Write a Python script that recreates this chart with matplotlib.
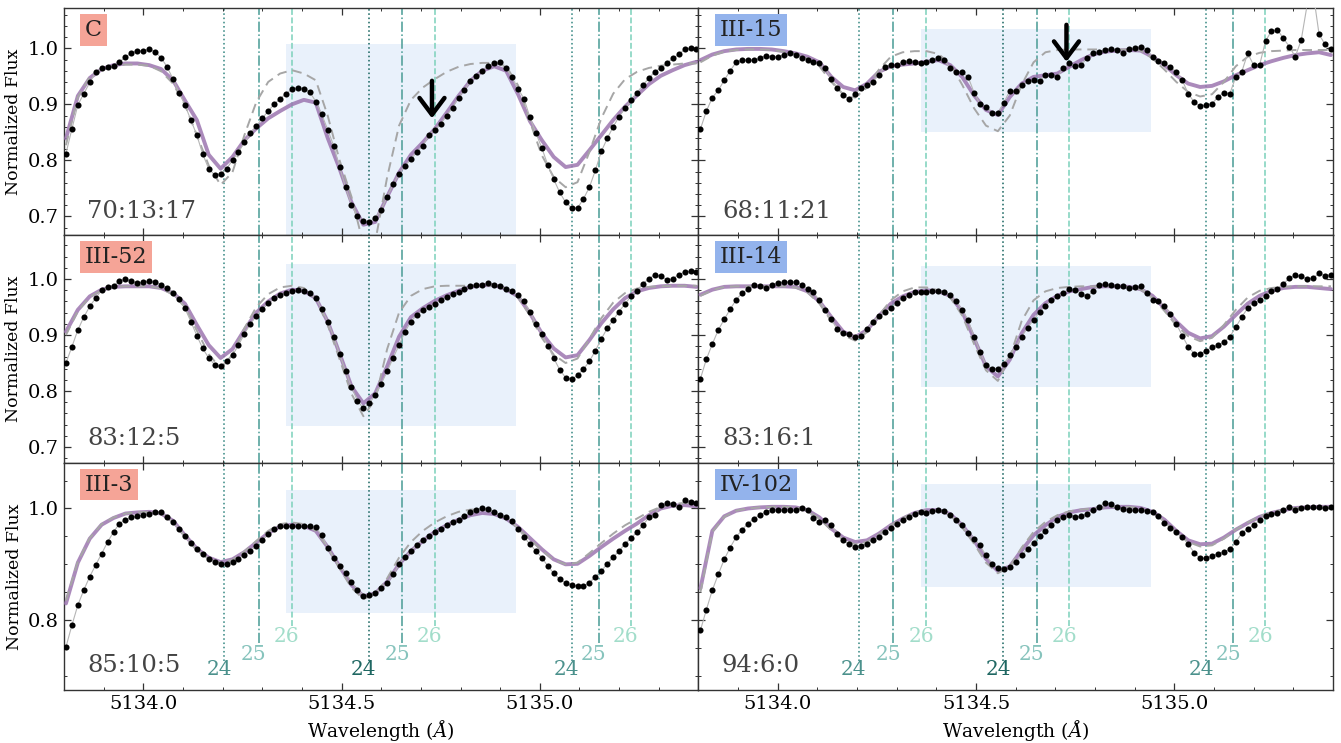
import numpy as np
import matplotlib
matplotlib.use("Agg")
import matplotlib.pyplot as plt
from matplotlib.patches import Rectangle
from matplotlib.ticker import MultipleLocator, AutoMinorLocator, FormatStrFormatter

plt.rcParams['font.family'] = ['DejaVu Serif']
plt.rcParams['mathtext.fontset'] = 'dejavuserif'

# ---------------------------------------------------------------- data
# observed pixel grid and model grid (Angstrom)
wave = 5133.805 + 0.015 * np.arange(107)
wave_model = 5133.805 + 0.03 * np.arange(54)

names = ["C", "III-15", "III-52", "III-14", "III-3", "IV-102"]
ratios = ["70:13:17", "68:11:21", "83:12:5", "83:16:1", "85:10:5", "94:6:0"]
label_colors = ["#f5a497", "#93b3ec", "#f5a497", "#93b3ec", "#f5a497", "#93b3ec"]

flux_C = [0.812, 0.856, 0.899, 0.919, 0.939, 0.957, 0.964, 0.966, 0.969, 0.976,
          0.984, 0.992, 0.995, 0.996, 0.998, 0.994, 0.983, 0.967, 0.945, 0.921,
          0.899, 0.872, 0.845, 0.811, 0.785, 0.774, 0.776, 0.785, 0.800, 0.815,
          0.832, 0.848, 0.861, 0.875, 0.888, 0.900, 0.910, 0.919, 0.927, 0.930,
          0.928, 0.922, 0.905, 0.882, 0.855, 0.826, 0.788, 0.752, 0.721, 0.700,
          0.691, 0.690, 0.697, 0.712, 0.735, 0.757, 0.776, 0.790, 0.802, 0.815,
          0.826, 0.845, 0.855, 0.865, 0.880, 0.894, 0.912, 0.926, 0.942, 0.950,
          0.960, 0.968, 0.973, 0.975, 0.964, 0.948, 0.928, 0.910, 0.877, 0.849,
          0.822, 0.792, 0.766, 0.743, 0.725, 0.715, 0.715, 0.731, 0.752, 0.782,
          0.816, 0.839, 0.860, 0.878, 0.893, 0.907, 0.921, 0.934, 0.947, 0.958,
          0.965, 0.973, 0.982, 0.989, 0.998, 1.000, 0.999]
fit_C = [0.839, 0.915, 0.947, 0.963, 0.970, 0.973, 0.973, 0.970, 0.963, 0.943,
         0.907, 0.872, 0.810, 0.785, 0.806, 0.836, 0.857, 0.875, 0.888, 0.900,
         0.908, 0.903, 0.840, 0.785, 0.725, 0.685, 0.690, 0.735, 0.778, 0.810,
         0.832, 0.856, 0.885, 0.915, 0.942, 0.960, 0.968, 0.960, 0.918, 0.870,
         0.836, 0.806, 0.788, 0.792, 0.818, 0.845, 0.872, 0.896, 0.916, 0.936,
         0.951, 0.961, 0.970, 0.976]
alt_C = [0.827, 0.913, 0.949, 0.963, 0.969, 0.971, 0.971, 0.969, 0.959, 0.937,
         0.899, 0.845, 0.791, 0.756, 0.779, 0.845, 0.904, 0.940, 0.955, 0.961,
         0.955, 0.943, 0.880, 0.800, 0.735, 0.650, 0.655, 0.770, 0.862, 0.908,
         0.930, 0.945, 0.958, 0.967, 0.972, 0.974, 0.974, 0.968, 0.934, 0.869,
         0.809, 0.770, 0.752, 0.761, 0.815, 0.875, 0.919, 0.945, 0.958, 0.965,
         0.969, 0.971, 0.973, 0.973]

flux_III15 = [0.856, 0.888, 0.912, 0.925, 0.943, 0.960, 0.975, 0.979, 0.979, 0.979,
              0.982, 0.987, 0.985, 0.985, 0.988, 0.992, 0.988, 0.983, 0.980, 0.976,
              0.973, 0.964, 0.945, 0.930, 0.916, 0.910, 0.918, 0.930, 0.934, 0.940,
              0.953, 0.967, 0.970, 0.970, 0.976, 0.978, 0.976, 0.973, 0.976, 0.980,
              0.982, 0.979, 0.964, 0.958, 0.958, 0.949, 0.921, 0.900, 0.896, 0.884,
              0.884, 0.903, 0.924, 0.924, 0.934, 0.941, 0.943, 0.941, 0.952, 0.953,
              0.949, 0.964, 0.973, 0.969, 0.971, 0.982, 0.992, 0.994, 0.997, 0.998,
              0.997, 0.992, 0.998, 1.001, 1.003, 0.997, 0.985, 0.977, 0.974, 0.967,
              0.958, 0.943, 0.919, 0.904, 0.897, 0.899, 0.901, 0.913, 0.921, 0.919,
              0.949, 0.958, 0.991, 0.970, 0.970, 1.013, 1.031, 1.033, 1.018, 1.003,
              0.985, 1.015, 1.078, 1.100, 1.025, 1.007, 0.998]
fit_III15 = [0.979, 0.989, 0.995, 0.998, 0.999, 0.999, 0.998, 0.995, 0.991, 0.985,
             0.975, 0.949, 0.931, 0.925, 0.937, 0.958, 0.968, 0.971, 0.973, 0.976,
             0.979, 0.970, 0.949, 0.916, 0.890, 0.881, 0.913, 0.937, 0.949, 0.952,
             0.955, 0.967, 0.979, 0.989, 0.994, 0.996, 0.997, 0.996, 0.985, 0.970,
             0.952, 0.937, 0.931, 0.933, 0.941, 0.952, 0.961, 0.970, 0.977, 0.983,
             0.988, 0.991, 0.993, 0.988]
alt_III15 = [0.975, 0.987, 0.994, 0.997, 0.998, 0.998, 0.997, 0.994, 0.990, 0.982,
             0.968, 0.940, 0.918, 0.912, 0.930, 0.962, 0.985, 0.993, 0.995, 0.995,
             0.990, 0.972, 0.935, 0.893, 0.862, 0.852, 0.880, 0.935, 0.975, 0.993,
             0.997, 0.998, 0.998, 0.998, 0.998, 0.998, 0.998, 0.996, 0.982, 0.962,
             0.940, 0.922, 0.914, 0.918, 0.940, 0.968, 0.985, 0.992, 0.995, 0.996,
             0.997, 0.997, 0.997, 0.997]

flux_III52 = [0.850, 0.879, 0.909, 0.932, 0.951, 0.966, 0.980, 0.986, 0.988, 0.996,
              1.000, 0.996, 0.993, 0.994, 0.996, 0.994, 0.990, 0.984, 0.975, 0.964,
              0.948, 0.924, 0.899, 0.876, 0.859, 0.847, 0.845, 0.853, 0.864, 0.882,
              0.902, 0.920, 0.934, 0.947, 0.957, 0.966, 0.972, 0.975, 0.978, 0.981,
              0.979, 0.975, 0.966, 0.946, 0.924, 0.897, 0.866, 0.836, 0.807, 0.783,
              0.769, 0.778, 0.793, 0.813, 0.835, 0.859, 0.882, 0.906, 0.924, 0.936,
              0.944, 0.950, 0.956, 0.962, 0.968, 0.973, 0.977, 0.983, 0.987, 0.989,
              0.990, 0.993, 0.990, 0.987, 0.983, 0.978, 0.971, 0.960, 0.942, 0.920,
              0.902, 0.881, 0.859, 0.838, 0.824, 0.821, 0.828, 0.839, 0.853, 0.872,
              0.893, 0.912, 0.927, 0.942, 0.956, 0.969, 0.979, 0.992, 1.000, 1.008,
              1.005, 0.999, 1.000, 1.008, 1.012, 1.014, 1.012]
fit_III52 = [0.906, 0.945, 0.969, 0.981, 0.986, 0.987, 0.987, 0.987, 0.984, 0.975,
             0.956, 0.918, 0.882, 0.859, 0.875, 0.909, 0.940, 0.960, 0.974, 0.981,
             0.979, 0.966, 0.924, 0.867, 0.808, 0.778, 0.796, 0.844, 0.897, 0.932,
             0.948, 0.961, 0.971, 0.979, 0.986, 0.989, 0.989, 0.982, 0.969, 0.939,
             0.903, 0.876, 0.860, 0.864, 0.891, 0.921, 0.946, 0.966, 0.978, 0.984,
             0.987, 0.988, 0.988, 0.986]
alt_III52 = [0.900, 0.943, 0.968, 0.980, 0.986, 0.987, 0.987, 0.987, 0.983, 0.972,
             0.950, 0.908, 0.866, 0.840, 0.865, 0.912, 0.950, 0.973, 0.985, 0.988,
             0.984, 0.965, 0.918, 0.857, 0.795, 0.755, 0.785, 0.875, 0.940, 0.970,
             0.982, 0.987, 0.988, 0.988, 0.988, 0.988, 0.988, 0.983, 0.967, 0.935,
             0.895, 0.865, 0.850, 0.858, 0.893, 0.930, 0.958, 0.975, 0.983, 0.986,
             0.987, 0.988, 0.988, 0.988]

flux_III14 = [0.822, 0.857, 0.884, 0.909, 0.928, 0.946, 0.963, 0.975, 0.982, 0.989,
              0.987, 0.984, 0.990, 0.993, 0.994, 0.995, 0.995, 0.990, 0.983, 0.976,
              0.962, 0.945, 0.928, 0.910, 0.904, 0.901, 0.897, 0.899, 0.910, 0.924,
              0.934, 0.941, 0.948, 0.957, 0.966, 0.972, 0.976, 0.977, 0.977, 0.978,
              0.978, 0.977, 0.971, 0.960, 0.945, 0.926, 0.897, 0.870, 0.847, 0.840,
              0.840, 0.848, 0.864, 0.879, 0.897, 0.913, 0.927, 0.941, 0.952, 0.962,
              0.969, 0.975, 0.982, 0.981, 0.974, 0.969, 0.978, 0.990, 0.991, 0.989,
              0.987, 0.988, 0.984, 0.986, 0.987, 0.975, 0.963, 0.960, 0.951, 0.938,
              0.920, 0.899, 0.879, 0.867, 0.866, 0.872, 0.878, 0.882, 0.887, 0.897,
              0.914, 0.932, 0.948, 0.958, 0.962, 0.970, 0.979, 0.983, 0.992, 1.001,
              1.007, 1.005, 1.000, 1.002, 1.010, 1.006, 1.008]
fit_III14 = [0.972, 0.981, 0.986, 0.987, 0.987, 0.987, 0.987, 0.987, 0.986, 0.978,
             0.960, 0.932, 0.906, 0.896, 0.909, 0.934, 0.956, 0.969, 0.977, 0.980,
             0.978, 0.970, 0.942, 0.894, 0.844, 0.826, 0.856, 0.903, 0.936, 0.957,
             0.970, 0.978, 0.982, 0.986, 0.987, 0.987, 0.986, 0.982, 0.970, 0.948,
             0.924, 0.904, 0.894, 0.898, 0.915, 0.936, 0.956, 0.970, 0.979, 0.984,
             0.986, 0.986, 0.984, 0.982]
alt_III14 = [0.970, 0.980, 0.986, 0.987, 0.987, 0.987, 0.987, 0.987, 0.985, 0.976,
             0.956, 0.925, 0.900, 0.890, 0.905, 0.935, 0.962, 0.978, 0.985, 0.985,
             0.980, 0.967, 0.935, 0.884, 0.837, 0.818, 0.860, 0.925, 0.962, 0.978,
             0.984, 0.986, 0.987, 0.987, 0.987, 0.987, 0.986, 0.981, 0.967, 0.943,
             0.917, 0.898, 0.889, 0.895, 0.918, 0.945, 0.967, 0.979, 0.984, 0.986,
             0.987, 0.987, 0.987, 0.987]

flux_III3 = [0.752, 0.791, 0.827, 0.854, 0.878, 0.899, 0.919, 0.940, 0.958, 0.973,
             0.980, 0.984, 0.986, 0.989, 0.991, 0.994, 0.993, 0.984, 0.976, 0.964,
             0.950, 0.939, 0.928, 0.918, 0.910, 0.904, 0.900, 0.900, 0.904, 0.910,
             0.917, 0.924, 0.933, 0.944, 0.955, 0.964, 0.968, 0.969, 0.969, 0.969,
             0.969, 0.968, 0.966, 0.952, 0.930, 0.912, 0.897, 0.885, 0.869, 0.854,
             0.844, 0.845, 0.849, 0.857, 0.867, 0.882, 0.900, 0.913, 0.924, 0.934,
             0.943, 0.950, 0.958, 0.964, 0.970, 0.975, 0.980, 0.987, 0.993, 0.998,
             1.001, 0.999, 0.993, 0.988, 0.984, 0.978, 0.964, 0.949, 0.936, 0.924,
             0.912, 0.897, 0.884, 0.873, 0.867, 0.863, 0.861, 0.861, 0.867, 0.878,
             0.888, 0.901, 0.913, 0.924, 0.937, 0.947, 0.958, 0.970, 0.984, 0.989,
             1.006, 1.009, 1.008, 1.002, 1.015, 1.012, 1.009]
fit_III3 = [0.830, 0.903, 0.946, 0.971, 0.983, 0.991, 0.993, 0.994, 0.991, 0.978,
            0.952, 0.928, 0.912, 0.904, 0.909, 0.922, 0.939, 0.956, 0.968, 0.971,
            0.969, 0.960, 0.931, 0.896, 0.863, 0.843, 0.848, 0.869, 0.900, 0.924,
            0.942, 0.958, 0.970, 0.980, 0.988, 0.992, 0.990, 0.982, 0.967, 0.947,
            0.927, 0.909, 0.900, 0.901, 0.915, 0.931, 0.946, 0.960, 0.973, 0.988,
            1.000, 1.005, 1.006, 1.004]
alt_III3 = [0.835, 0.905, 0.947, 0.972, 0.984, 0.991, 0.993, 0.994, 0.990, 0.976,
            0.950, 0.925, 0.910, 0.903, 0.908, 0.923, 0.942, 0.960, 0.972, 0.975,
            0.972, 0.960, 0.930, 0.893, 0.858, 0.838, 0.846, 0.875, 0.912, 0.940,
            0.960, 0.975, 0.986, 0.994, 0.998, 0.998, 0.993, 0.982, 0.965, 0.945,
            0.925, 0.908, 0.900, 0.903, 0.920, 0.938, 0.955, 0.970, 0.982, 0.994,
            1.003, 1.008, 1.010, 1.010]

flux_IV102 = [0.782, 0.819, 0.854, 0.882, 0.909, 0.930, 0.949, 0.962, 0.973, 0.982,
              0.988, 0.994, 0.998, 0.998, 0.998, 0.998, 0.997, 1.000, 0.998, 0.983,
              0.976, 0.979, 0.970, 0.955, 0.943, 0.936, 0.931, 0.933, 0.937, 0.943,
              0.949, 0.958, 0.965, 0.973, 0.979, 0.985, 0.990, 0.994, 0.992, 0.996,
              0.997, 0.995, 0.988, 0.980, 0.970, 0.956, 0.946, 0.934, 0.916, 0.901,
              0.893, 0.891, 0.896, 0.904, 0.916, 0.928, 0.939, 0.950, 0.960, 0.970,
              0.979, 0.985, 0.989, 0.985, 0.986, 0.991, 0.997, 1.003, 1.010, 1.008,
              1.002, 0.999, 0.998, 0.997, 0.997, 0.996, 0.993, 0.987, 0.974, 0.965,
              0.958, 0.949, 0.936, 0.921, 0.911, 0.911, 0.915, 0.919, 0.922, 0.927,
              0.940, 0.956, 0.964, 0.970, 0.979, 0.987, 0.991, 0.992, 0.998, 1.003,
              0.997, 1.000, 1.003, 1.002, 1.002, 1.000, 1.002]
fit_IV102 = [0.857, 0.960, 0.986, 0.996, 1.000, 1.002, 1.003, 1.003, 1.002, 0.997,
             0.984, 0.964, 0.948, 0.940, 0.943, 0.955, 0.970, 0.982, 0.992, 0.997,
             0.997, 0.990, 0.970, 0.943, 0.910, 0.888, 0.896, 0.925, 0.952, 0.970,
             0.985, 0.993, 0.997, 0.999, 1.002, 1.003, 1.003, 1.001, 0.994, 0.980,
             0.960, 0.943, 0.936, 0.937, 0.948, 0.962, 0.974, 0.985, 0.992, 0.997,
             1.001, 1.002, 1.003, 1.003]
alt_IV102 = [0.850, 0.958, 0.985, 0.996, 1.000, 1.002, 1.003, 1.003, 1.002, 0.996,
             0.982, 0.961, 0.944, 0.936, 0.940, 0.954, 0.970, 0.983, 0.993, 0.997,
             0.996, 0.988, 0.966, 0.937, 0.903, 0.884, 0.896, 0.930, 0.958, 0.976,
             0.988, 0.995, 0.998, 1.000, 1.002, 1.003, 1.003, 1.000, 0.992, 0.977,
             0.957, 0.940, 0.932, 0.934, 0.946, 0.962, 0.975, 0.986, 0.993, 0.998,
             1.001, 1.002, 1.003, 1.003]

fluxes = [flux_C, flux_III15, flux_III52, flux_III14, flux_III3, flux_IV102]
fits = [fit_C, fit_III15, fit_III52, fit_III14, fit_III3, fit_IV102]
alts = [alt_C, alt_III15, alt_III52, alt_III14, alt_III3, alt_IV102]

# MgH line positions for the three isotopologues
mg24 = [5134.204, 5134.568, 5135.080]
mg25 = [5134.291, 5134.653, 5135.148]
mg26 = [5134.374, 5134.735, 5135.229]

# fitting window (wavelength) and its flux extent per panel
window = (5134.36, 5134.94)
window_flux = [(0.60, 1.007), (0.851, 1.035), (0.737, 1.026),
               (0.808, 1.023), (0.813, 1.033), (0.860, 1.044)]

# arrows marking the 26MgH feature (top row)
arrow_wave = 5134.728
arrow_flux = {0: (0.942, 0.875), 1: (1.042, 0.976)}

row_ylims = [(0.666, 1.072), (0.672, 1.078), (0.675, 1.082)]

# ---------------------------------------------------------------- style
PURPLE = "#9c76b0"
DASH_GREY = "#a6a6a6"
BOX = "#e9f1fb"
C24_OUT, C24_MID = "#3d8c87", "#1f6a65"
C25 = "#4f9f99"
C26 = "#80d2bd"
T24_OUT, T24_MID, T25, T26 = "#4b918c", "#1f6762", "#86c3bc", "#a2ddca"

fig = plt.figure(figsize=(13.41, 7.43), dpi=100)
gs = fig.add_gridspec(3, 2, left=0.0477, right=0.994, top=0.9892,
                      bottom=0.0713, wspace=0, hspace=0)

for k in range(6):
    row, col = divmod(k, 2)
    ax = fig.add_subplot(gs[row, col])
    ylo, yhi = row_ylims[row]
    ax.set_xlim(5133.8, 5135.4)
    ax.set_ylim(ylo, yhi)

    # fitting window
    flo, fhi = window_flux[k]
    ax.add_patch(Rectangle((window[0], flo), window[1] - window[0], fhi - flo,
                           facecolor=BOX, edgecolor="none", zorder=0))

    # line markers
    bottom_row = row == 2
    ends = {24: 0.727, 25: 0.760, 26: 0.789}
    groups = [(mg24, ":", 24), (mg25, "-.", 25), (mg26, "--", 26)]
    for waves, ls, iso in groups:
        for m, w in enumerate(waves):
            if iso == 24:
                c = C24_MID if m == 1 else C24_OUT
            elif iso == 25:
                c = C25
            else:
                c = C26
            y0 = ends[iso] if bottom_row else ylo
            ax.plot([w, w], [y0, yhi], ls=ls, color=c, lw=1.15, zorder=1)
            if bottom_row:
                if iso == 24:
                    tc = T24_MID if m == 1 else T24_OUT
                    ty = 0.711
                elif iso == 25:
                    tc, ty = T25, 0.739
                else:
                    tc, ty = T26, 0.771
                ax.text(w - 0.012, ty, str(iso), color=tc, fontsize=14.5,
                        ha="center", va="center", zorder=2)

    # models and data
    ax.plot(wave_model, fits[k], color=PURPLE, lw=2.8, alpha=0.85,
            solid_capstyle="round", zorder=3)
    ax.plot(wave_model, alts[k], color=DASH_GREY, lw=1.4, ls=(0, (5, 3)),
            zorder=4)
    ax.plot(wave, fluxes[k], color="#b5b5b5", lw=0.8, zorder=4.5)
    ax.plot(wave, fluxes[k], "o", color="black", ms=4.4, mec="none", zorder=5)

    if k in arrow_flux:
        f0, f1 = arrow_flux[k]
        ax.annotate("", xy=(arrow_wave, f1), xytext=(arrow_wave, f0),
                    arrowprops=dict(arrowstyle="->,head_length=0.6,head_width=0.45",
                                    color="black", lw=3.2, shrinkA=0, shrinkB=0,
                                    mutation_scale=20), zorder=6)

    # labels
    ax.text(0.033, 0.952, names[k], transform=ax.transAxes, fontsize=16,
            ha="left", va="top", color="#222222", zorder=7,
            bbox=dict(boxstyle="square,pad=0.22", facecolor=label_colors[k],
                      edgecolor="none"))
    ax.text(0.037, 0.107, ratios[k], transform=ax.transAxes, fontsize=17.5,
            ha="left", va="center", color="#444444", zorder=7)

    # ticks
    ax.xaxis.set_major_locator(MultipleLocator(0.5))
    ax.xaxis.set_minor_locator(MultipleLocator(0.1))
    if bottom_row:
        ax.yaxis.set_major_locator(MultipleLocator(0.2))
    else:
        ax.yaxis.set_major_locator(MultipleLocator(0.1))
    ax.yaxis.set_minor_locator(AutoMinorLocator())
    ax.tick_params(which="both", direction="in", top=True, right=True,
                   labelsize=14, color="#333333")
    ax.tick_params(which="major", length=5, width=0.9)
    ax.tick_params(which="minor", length=2.5, width=0.7)
    ax.xaxis.set_major_formatter(FormatStrFormatter("%.1f"))
    ax.yaxis.set_major_formatter(FormatStrFormatter("%.1f"))
    if col == 1:
        ax.tick_params(labelleft=False)
    else:
        ax.set_ylabel("Normalized Flux", fontsize=12.5)
    if not bottom_row:
        ax.tick_params(labelbottom=False)
    else:
        ax.set_xlabel(r"Wavelength ($\AA$)", fontsize=13.5)
    for sp in ax.spines.values():
        sp.set_color("#333333")
        sp.set_linewidth(1.0)

fig.savefig("out.png", dpi=100)
